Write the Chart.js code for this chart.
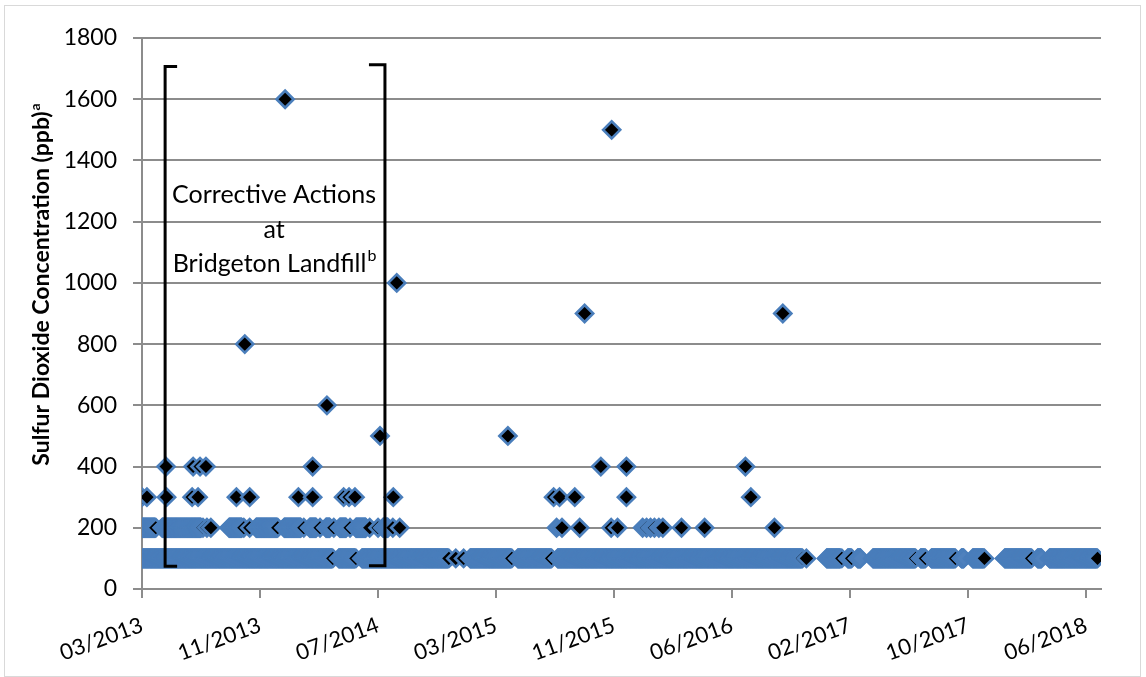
<!DOCTYPE html>
<html><head><meta charset="utf-8">
<script src="https://cdn.jsdelivr.net/npm/chart.js@4.4.1/dist/chart.umd.min.js"></script>
<style>html,body{margin:0;padding:0;background:#fff;}canvas{display:block;}</style>
</head><body>
<canvas id="c" width="1146" height="677"></canvas>
<script>
// ---- axis ----
const axisStart = "2013-03-17";
const axisEnd = "2018-07-19";
const tickDates = ["2013-03-17","2013-11-12","2014-07-10","2015-03-07","2015-11-02","2016-06-29","2017-02-24","2017-10-22","2018-06-19"];
const tickLabels = ["03/2013","11/2013","07/2014","03/2015","11/2015","06/2016","02/2017","10/2017","06/2018"];
const yTicks = [0,200,400,600,800,1000,1200,1400,1600,1800];

// ---- data ----
// periods of daily non-detect readings plotted at 100 ppb
const nd100Runs = [["2013-03-17","2014-04-07"],["2014-04-21","2014-05-24"],["2014-06-07","2014-11-29"],["2015-01-13","2015-04-06"],["2015-04-20","2015-06-26"],["2015-07-10","2016-11-17"],["2017-01-07","2017-02-04"],["2017-02-19","2017-02-25"],["2017-03-11","2017-03-17"],["2017-04-11","2017-07-05"],["2017-07-17","2017-07-25"],["2017-08-08","2017-09-24"],["2017-10-08","2017-10-13"],["2017-10-31","2017-11-22"],["2018-01-04","2018-02-26"],["2018-03-12","2018-03-20"],["2018-04-05","2018-07-10"]];
// detected readings of 100 ppb
const det100 = ["2014-04-09","2014-05-26","2014-12-01","2014-12-15","2014-12-31","2015-04-08","2015-06-28","2016-11-19","2016-11-27","2017-02-07","2017-02-27","2017-07-07","2017-07-27","2017-09-26","2017-11-24","2018-02-28","2018-07-12"];
// periods of non-detect readings plotted at 200 ppb
const nd200Runs = [["2013-03-17","2013-04-12"],["2013-04-27","2013-07-15"],["2013-09-10","2013-10-06"],["2013-11-04","2013-12-16"],["2013-12-31","2014-02-03"],["2014-02-21","2014-03-06"],["2014-03-26","2014-04-03"],["2014-04-23","2014-05-06"],["2014-05-26","2014-06-15"],["2014-07-20","2014-07-30"],["2015-07-08","2015-07-08"],["2015-12-30","2015-12-30"],["2016-01-15","2016-01-15"],["2016-02-01","2016-02-01"]];
// detected readings of 200 ppb
const det200 = ["2013-04-14","2013-07-19","2013-07-27","2013-08-04","2013-10-10","2013-10-22","2013-12-18","2014-02-09","2014-03-14","2014-04-11","2014-05-14","2014-06-23","2014-07-10","2014-08-09","2014-08-23","2015-07-19","2015-08-24","2015-10-27","2015-11-09","2016-01-07","2016-01-23","2016-02-09","2016-03-18","2016-05-04","2016-09-23"];
// detected readings of 300 ppb
const det300 = ["2013-03-17","2013-03-27","2013-05-06","2013-06-27","2013-07-09","2013-09-25","2013-10-22","2014-01-29","2014-02-27","2014-05-01","2014-05-12","2014-05-24","2014-08-10","2015-07-02","2015-07-14","2015-08-14","2015-11-27","2016-08-06"];
// detected readings of 400 ppb
const det400 = ["2013-05-05","2013-06-29","2013-07-13","2013-07-25","2014-02-27","2015-10-06","2015-11-27","2016-07-26"];
// higher detected readings
const peakDates = ["2013-10-12","2014-01-02","2014-03-28","2014-07-14","2014-08-17","2015-03-31","2015-09-03","2015-10-28","2016-10-10"];
const peakValues = [800,1600,600,500,1000,500,900,1500,900];

// ---- annotation ----
const bracketDates = ["2013-05-03","2014-07-24"];
const noteLines = ["Corrective Actions","at","Bridgeton Landfill"];

const FONT = "Lato, 'Open Sans', sans-serif";
const GRID = "#8c8c8c";
const BLUE = "#4a7ebb";
const ND_FILL = "#4f81bd";
const DAY = 864e5;
const t0 = Date.parse(axisStart);
const toDay = d => Math.round((Date.parse(d) - t0) / DAY);

function rowPoints(runs, dets, value) {
  const pts = [];
  runs.forEach(([a, b]) => { for (let d = toDay(a); d <= toDay(b); d++) pts.push({x: d, y: value, nd: true}); });
  dets.forEach(d => pts.push({x: toDay(d), y: value, nd: false}));
  pts.sort((p, q) => p.x - q.x);
  return pts;
}
const mk = (data) => ({data, pointStyle: 'rectRot', pointRadius: 8.5, pointHoverRadius: 8.5,
  pointBackgroundColor: data.map(p => p.nd ? ND_FILL : '#000'),
  pointBorderColor: BLUE, pointBorderWidth: 2.7, showLine: false});

const ds = [
  mk(rowPoints(nd100Runs, det100, 100)),
  mk(rowPoints(nd200Runs, det200, 200)),
  mk(rowPoints([], det300, 300)),
  mk(rowPoints([], det400, 400)),
  mk(peakDates.map((d, i) => ({x: toDay(d), y: peakValues[i], nd: false})))
];

function drawSup(ctx, main, sup, cx, cy, size, bold) {
  const f = (bold ? "bold " : "") + size + "px " + FONT;
  const fs = (bold ? "bold " : "") + Math.round(size * 0.62) + "px " + FONT;
  ctx.font = f; const w1 = ctx.measureText(main).width;
  ctx.font = fs; const w2 = ctx.measureText(sup).width;
  const x0 = cx - (w1 + w2) / 2;
  ctx.textAlign = 'left'; ctx.textBaseline = 'middle';
  ctx.font = f; ctx.fillText(main, x0, cy);
  ctx.font = fs; ctx.fillText(sup, x0 + w1 + 1, cy - size * 0.3);
}

const overlay = {
  id: 'overlay',
  afterDatasetsDraw(chart) {
    const {ctx, scales: {x, y}} = chart;
    ctx.save();
    // outer frame
    ctx.strokeStyle = '#d9d9d9'; ctx.lineWidth = 1;
    ctx.strokeRect(4.5, 5.5, 1136, 671);
    // brackets
    ctx.strokeStyle = '#000'; ctx.lineWidth = 3; ctx.lineCap = 'butt'; ctx.lineJoin = 'miter';
    const xl = x.getPixelForValue(toDay(bracketDates[0]));
    const xr = x.getPixelForValue(toDay(bracketDates[1]));
    ctx.beginPath();
    ctx.moveTo(xl + 12, y.getPixelForValue(1707)); ctx.lineTo(xl, y.getPixelForValue(1707));
    ctx.lineTo(xl, y.getPixelForValue(74)); ctx.lineTo(xl + 12, y.getPixelForValue(74));
    ctx.stroke();
    ctx.beginPath();
    ctx.moveTo(xr - 16, y.getPixelForValue(1713)); ctx.lineTo(xr, y.getPixelForValue(1713));
    ctx.lineTo(xr, y.getPixelForValue(76)); ctx.lineTo(xr - 16, y.getPixelForValue(76));
    ctx.stroke();
    // note text
    ctx.fillStyle = '#000';
    const cx = (xl + xr) / 2 - 1;
    ctx.font = "25px " + FONT; ctx.textAlign = 'center'; ctx.textBaseline = 'middle';
    ctx.fillText(noteLines[0], cx, y.getPixelForValue(1288));
    ctx.fillText(noteLines[1], cx, y.getPixelForValue(1174));
    drawSup(ctx, noteLines[2], "b", cx, y.getPixelForValue(1063), 25, false);
    // y title
    ctx.translate(42, 285); ctx.rotate(-Math.PI / 2);
    drawSup(ctx, "Sulfur Dioxide Concentration (ppb)", "a", 0, 0, 23, true);
    ctx.restore();
  }
};

new Chart(document.getElementById('c'), {
  type: 'scatter',
  data: {datasets: ds},
  plugins: [overlay],
  options: {
    responsive: false, animation: false, events: [],
    layout: {padding: {left: 0, right: 45, top: 38, bottom: 0}},
    plugins: {legend: {display: false}, tooltip: {enabled: false}},
    scales: {
      x: {
        type: 'linear', min: 0, max: toDay(axisEnd),
        afterBuildTicks: s => { s.ticks = tickDates.map(d => ({value: toDay(d)})); },
        afterFit: s => { s.height = 88; },
        grid: {drawOnChartArea: false, drawTicks: true, tickLength: 9, color: GRID, lineWidth: 2},
        border: {display: true, color: GRID, width: 2},
        ticks: {autoSkip: false, minRotation: 20, maxRotation: 20, padding: 14, color: '#000',
          font: {family: FONT, size: 22}, callback: (v, i) => tickLabels[i]}
      },
      y: {
        min: 0, max: 1800,
        afterBuildTicks: s => { s.ticks = yTicks.map(v => ({value: v})); },
        afterFit: s => { s.width = 142; },
        grid: {color: GRID, lineWidth: 2, tickLength: 9},
        border: {display: true, color: GRID, width: 2},
        ticks: {padding: 16, color: '#000', font: {family: FONT, size: 23}, callback: v => String(v)}
      }
    }
  }
});
</script>
</body></html>
